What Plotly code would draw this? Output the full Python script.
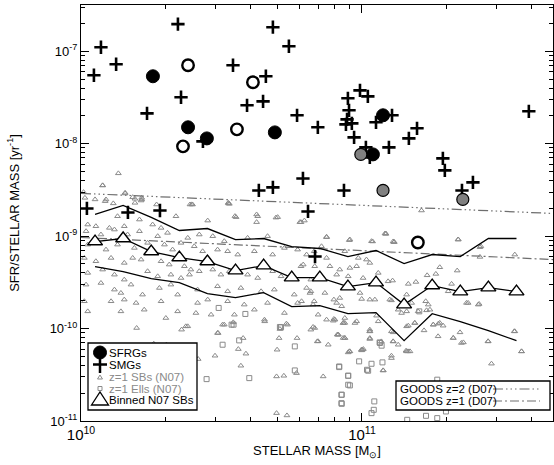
import plotly.graph_objects as go
import numpy as np

# ---------------- data (log10 stellar mass [Msun], log10 sSFR [yr^-1]) ----------------
smg_logm = [10.046, 10.071, 10.125, 10.345, 10.235, 10.356, 10.541, 10.434, 10.591, 10.648,
            10.658, 10.683, 10.633, 10.683, 10.021, 10.167, 10.281, 10.740, 10.769, 10.843,
            10.790, 10.808, 10.936, 10.950, 10.993, 11.021, 10.954, 10.947, 10.943, 10.964,
            10.972, 11.050, 11.107, 11.014, 11.028, 11.096, 11.167, 11.196, 11.288, 11.295,
            11.356, 11.395, 11.594, 10.833]
smg_logs = [-7.260, -6.957, -7.141, -6.707, -7.672, -7.498, -7.152, -7.975, -7.585, -7.542,
            -7.271, -6.740, -8.506, -8.473, -8.701, -8.744, -8.723, -6.946, -7.693, -7.823,
            -8.376, -8.733, -8.506, -7.509, -7.423, -7.488, -7.639, -7.737, -7.791, -7.780,
            -7.932, -7.769, -7.693, -8.040, -8.148, -8.040, -7.943, -7.834, -8.159, -8.289,
            -8.506, -8.419, -7.650, -9.221]

sfrg_logm = [10.256, 10.381, 10.448, 10.690, 11.075, 11.039]
sfrg_logs = [-7.271, -7.823, -7.943, -7.878, -7.693, -8.116]

sfrg_open_logm = [10.381, 10.363, 10.555, 10.612, 11.199]
sfrg_open_logs = [-7.152, -8.029, -7.845, -7.336, -9.069]

sfrg_gray_logm = [10.996, 11.075, 11.359]
sfrg_gray_logs = [-8.116, -8.506, -8.603]

bin_logm = [10.05, 10.15, 10.25, 10.35, 10.45, 10.55, 10.65, 10.75,
            10.85, 10.95, 11.05, 11.15, 11.25, 11.35, 11.45, 11.55]
bin_mid_logs = [-9.059, -9.026, -9.167, -9.232, -9.275, -9.373, -9.319, -9.449,
                -9.449, -9.546, -9.503, -9.741, -9.535, -9.600, -9.557, -9.600]
bin_up_logs = [-8.766, -8.668, -8.798, -8.939, -8.918, -9.037, -9.026, -9.113,
               -9.134, -9.221, -9.156, -9.297, -9.199, -9.221, -9.026, -9.026]
bin_lo_logs = [-9.329, -9.384, -9.459, -9.503, -9.622, -9.665, -9.611, -9.763,
               -9.752, -9.839, -9.828, -10.131, -9.839, -9.925, -10.023, -10.131]

goods_logm = [10.0, 11.68]
goods_z2_logs = [-8.538, -8.755]
goods_z1_logs = [-9.015, -9.254]

sb_points = [
    (10.089, -8.604), (10.184, -8.579), (10.214, -8.615), (10.397, -8.658), (10.528, -8.651),
    (10.130, -8.785), (10.208, -8.821), (10.338, -8.785), (10.451, -8.832), (10.552, -8.795),
    (10.629, -8.785), (10.700, -8.795), (10.795, -8.832), (10.024, -8.875), (10.053, -8.893),
    (10.101, -8.911), (10.154, -8.893), (10.255, -8.875), (10.285, -8.911),
    (10.018, -8.947), (10.071, -8.983), (10.119, -8.929), (10.166, -8.983), (10.208, -8.947),
    (10.273, -9.001), (10.308, -8.965), (10.380, -9.019), (10.421, -8.983), (10.469, -9.001),
    (10.510, -9.055), (10.593, -9.019), (10.664, -9.001), (10.724, -9.128), (10.771, -9.146),
    (10.830, -9.164), (10.024, -9.092), (10.089, -9.146), (10.130, -9.092), (10.190, -9.128),
    (10.237, -9.073), (10.297, -9.092), (10.326, -9.146), (10.356, -9.073), (10.403, -9.110),
    (10.433, -9.164), (10.486, -9.146), (10.522, -9.164), (10.558, -9.200), (10.617, -9.164),
    (10.682, -9.200),
    (10.012, -9.236), (10.053, -9.272), (10.107, -9.236), (10.154, -9.290), (10.184, -9.236),
    (10.214, -9.254), (10.285, -9.272), (10.314, -9.308), (10.368, -9.326), (10.391, -9.362),
    (10.421, -9.380), (10.469, -9.362), (10.498, -9.417), (10.528, -9.380), (10.593, -9.417),
    (10.629, -9.453), (10.682, -9.380), (10.712, -9.435), (10.783, -9.326), (10.818, -9.471),
    (10.024, -9.398), (10.077, -9.362), (10.119, -9.417), (10.154, -9.471), (10.237, -9.380),
    (10.273, -9.435), (10.320, -9.417), (10.356, -9.453), (10.386, -9.417),
    (10.018, -9.525), (10.071, -9.507), (10.119, -9.579), (10.142, -9.615), (10.178, -9.525),
    (10.219, -9.633), (10.279, -9.561), (10.320, -9.525), (10.344, -9.633), (10.415, -9.579),
    (10.486, -9.543), (10.522, -9.597), (10.569, -9.561), (10.641, -9.597), (10.688, -9.579),
    (10.759, -9.633), (10.818, -9.597), (10.012, -9.705), (10.107, -9.705), (10.154, -9.687),
    (10.196, -9.723), (10.285, -9.705), (10.415, -9.723), (10.451, -9.687), (10.522, -9.705),
    (10.581, -9.741), (10.664, -9.723), (10.771, -9.723), (10.830, -9.705),
    (10.024, -9.814), (10.142, -9.814), (10.225, -9.796), (10.344, -9.814), (10.409, -9.832),
    (10.463, -9.850), (10.546, -9.850), (10.617, -9.796), (10.653, -9.904), (10.724, -9.832),
    (10.302, -9.886), (10.380, -9.976), (10.510, -9.958), (10.735, -9.958), (10.486, -10.048),
    (10.818, -10.012),
    (11.212, -8.723), (10.874, -9.012), (10.957, -9.037), (11.034, -9.055), (11.085, -8.976),
    (11.115, -9.063), (11.342, -9.037), (11.420, -9.120), (11.544, -9.200), (10.856, -9.110),
    (10.874, -9.236), (10.939, -9.164), (10.987, -9.236), (11.016, -9.254), (11.028, -9.290),
    (10.803, -9.200), (10.791, -9.308), (10.832, -9.326), (10.886, -9.326), (10.921, -9.362),
    (10.957, -9.344), (10.981, -9.326), (10.910, -9.417), (10.951, -9.435), (11.004, -9.453),
    (11.058, -9.398), (11.093, -9.489), (11.109, -9.481), (11.165, -9.517), (11.192, -9.496),
    (11.232, -9.424), (11.263, -9.409), (11.277, -9.337), (11.339, -9.373), (11.319, -9.517),
    (11.307, -9.597), (11.378, -9.723), (11.417, -9.734), (10.803, -9.561), (10.815, -9.615),
    (10.868, -9.615), (10.921, -9.669), (10.993, -9.615), (11.028, -9.687), (11.099, -9.687),
    (11.129, -9.796), (11.159, -9.814), (11.227, -9.705), (11.242, -9.796), (10.785, -9.705),
    (10.826, -9.741), (10.844, -9.850), (10.874, -9.904), (10.904, -9.904), (10.939, -9.939),
    (10.981, -9.922), (10.832, -9.994), (10.915, -10.066), (11.028, -10.012), (11.058, -9.922),
    (11.105, -10.030), (11.159, -9.976), (11.188, -9.939), (11.254, -9.958), (11.277, -9.939),
    (11.271, -10.084), (11.325, -10.102), (11.354, -10.156), (11.449, -10.138), (11.542, -10.030),
    (11.568, -10.247), (10.844, -10.138), (10.933, -10.102), (10.957, -10.247), (10.998, -10.229),
    (11.159, -10.247), (10.880, -10.175),
    (10.198, -9.994), (10.373, -9.976), (10.358, -10.012), (10.488, -10.048), (10.504, -9.958),
    (10.542, -9.933), (10.577, -10.103), (10.259, -10.164), (10.304, -10.175), (10.290, -10.265),
    (10.417, -10.330), (10.477, -10.294), (10.560, -10.222), (10.587, -10.272), (10.569, -10.402),
    (10.654, -9.922), (10.705, -10.103), (10.769, -10.103), (10.708, -10.005), (10.731, -9.947),
    (10.826, -9.983), (10.841, -10.139), (10.912, -10.066), (10.939, -10.103),
    (10.898, -9.915), (10.934, -9.940), (10.975, -9.940), (10.698, -10.229), (10.696, -10.518),
    (10.722, -10.511), (10.767, -10.482), (10.862, -10.518), (10.951, -10.258), (11.002, -10.229),
    (11.028, -10.103), (11.028, -10.030), (11.069, -10.139), (11.075, -10.453), (11.105, -10.294),
    (11.111, -10.139), (11.164, -10.247), (10.696, -10.915), (10.733, -10.940),
    (10.900, -9.897), (10.939, -9.886), (10.933, -9.940), (10.916, -10.066), (10.939, -10.102),
    (11.028, -10.030), (11.028, -10.113), (11.111, -10.041), (11.165, -9.969), (11.188, -9.940),
    (11.221, -10.020), (11.254, -9.958), (11.272, -9.947), (11.289, -9.969), (11.349, -10.041),
    (11.325, -10.102), (11.361, -10.150), (11.449, -10.139), (11.544, -10.030), (11.568, -10.247),
    (11.461, -10.380), (10.955, -10.247), (10.999, -10.236), (11.005, -10.222), (11.105, -10.319),
    (11.076, -10.453), (11.111, -10.139), (11.157, -10.240), (11.171, -10.247), (11.129, -10.175),
    (11.159, -9.633), (11.177, -9.723), (11.236, -9.741), (11.230, -9.803), (11.372, -9.723),
    (11.414, -9.741), (10.910, -9.723), (10.928, -9.759), (11.052, -9.861), (11.105, -9.695),
    (11.141, -9.832), (11.200, -9.814), (10.900, -9.687), (10.999, -9.680), (11.046, -9.687),
    (10.077, -8.452), (10.157, -8.539), (10.216, -8.586), (10.014, -8.586), (10.086, -8.622),
    (10.192, -8.640), (10.269, -8.658), (10.388, -8.658), (10.524, -8.640),
    (10.133, -8.321), (10.077, -8.451), (10.157, -8.531), (10.192, -8.596), (10.216, -8.603),
    (10.009, -8.524), (10.050, -8.603), (10.115, -8.646), (10.394, -8.657), (10.525, -8.646),
    (10.548, -8.784), (10.625, -8.766), (10.625, -8.849), (10.779, -8.849), (10.874, -9.008),
    (10.955, -9.044), (11.038, -9.058), (11.082, -8.972), (11.111, -9.058),
    (10.694, -8.800), (10.783, -8.850), (11.085, -8.972), (11.114, -9.066), (11.343, -9.037),
    (11.423, -9.109), (11.420, -9.225),
]

ell_points = [
    (10.490, -9.777), (10.585, -9.842), (10.543, -9.958), (10.712, -9.987),
    (11.204, -9.814), (11.064, -10.156), (11.070, -10.185),
    (10.536, -9.958), (10.708, -9.983), (10.563, -10.128), (10.504, -10.175), (10.761, -10.193),
    (10.447, -10.547), (10.599, -10.536), (10.761, -10.453), (10.919, -10.410), (10.951, -10.511),
    (10.951, -10.608), (10.927, -10.716), (10.927, -10.807), (10.990, -10.355), (11.018, -10.446),
    (11.034, -10.381), (11.073, -10.366), (11.042, -10.879), (11.063, -10.150),
    (11.022, -10.456), (10.919, -10.417), (10.951, -10.510), (10.957, -10.615), (10.928, -10.716),
    (10.928, -10.814), (11.044, -10.788), (11.034, -10.915), (11.149, -10.752), (11.206, -10.698),
    (11.268, -10.553), (11.299, -10.897), (11.228, -10.944), (11.268, -10.969), (11.396, -10.850),
    (11.414, -10.626), (11.161, -10.987),
]

# ---------------- helpers ----------------
def p10(a):
    return [10.0 ** v for v in a]

sb_m = p10([p[0] for p in sb_points])
sb_s = p10([p[1] for p in sb_points])
el_m = p10([p[0] for p in ell_points])
el_s = p10([p[1] for p in ell_points])

GRAY = "#8a8a8a"
FONT = "Liberation Sans, Arial, sans-serif"

fig = go.Figure()

fig.add_trace(go.Scatter(x=sb_m, y=sb_s, mode="markers", name="z=1 SBs (N07)",
                         marker=dict(symbol="triangle-up-open", size=5, color=GRAY,
                                     line=dict(width=1, color=GRAY))))
fig.add_trace(go.Scatter(x=el_m, y=el_s, mode="markers", name="z=1 Ells (N07)",
                         marker=dict(symbol="square-open", size=5, color=GRAY,
                                     line=dict(width=1, color=GRAY))))

fig.add_trace(go.Scatter(x=p10(goods_logm), y=p10(goods_z2_logs), mode="lines",
                         name="GOODS z=2 (D07)",
                         line=dict(color="#6e6e6e", width=1.2,
                                   dash="10px,3px,1.5px,3px,1.5px,3px,1.5px,3px")))
fig.add_trace(go.Scatter(x=p10(goods_logm), y=p10(goods_z1_logs), mode="lines",
                         name="GOODS z=1 (D07)",
                         line=dict(color="#6e6e6e", width=1.2, dash="9px,3px,2px,3px")))

fig.add_trace(go.Scatter(x=p10(bin_logm), y=p10(bin_up_logs), mode="lines",
                         line=dict(color="black", width=1.3), showlegend=False))
fig.add_trace(go.Scatter(x=p10(bin_logm), y=p10(bin_lo_logs), mode="lines",
                         line=dict(color="black", width=1.3), showlegend=False))
fig.add_trace(go.Scatter(x=p10(bin_logm), y=p10(bin_mid_logs), mode="lines+markers",
                         name="Binned N07 SBs",
                         line=dict(color="black", width=1.3),
                         marker=dict(symbol="triangle-up", size=13, color="white",
                                     line=dict(width=1.4, color="black"))))

fig.add_trace(go.Scatter(x=p10(smg_logm), y=p10(smg_logs), mode="markers", name="SMGs",
                         marker=dict(symbol="cross-thin", size=9.5, color="black",
                                     line=dict(width=2.6, color="black"))))
fig.add_trace(go.Scatter(x=p10(sfrg_logm), y=p10(sfrg_logs), mode="markers", name="SFRGs",
                         marker=dict(symbol="circle", size=13, color="black",
                                     line=dict(width=1, color="black"))))
fig.add_trace(go.Scatter(x=p10(sfrg_open_logm), y=p10(sfrg_open_logs), mode="markers",
                         showlegend=False,
                         marker=dict(symbol="circle-open", size=11.5, color="black",
                                     line=dict(width=2.4, color="black"))))
fig.add_trace(go.Scatter(x=p10(sfrg_gray_logm), y=p10(sfrg_gray_logs), mode="markers",
                         showlegend=False,
                         marker=dict(symbol="circle", size=12, color="#808080",
                                     line=dict(width=1.2, color="black"))))

# ---------------- axes ----------------
x_minor = [k * 1e10 for k in range(2, 10)] + [k * 1e11 for k in range(2, 5)]
y_minor = []
for d in range(-11, -6):
    for k in range(2, 10):
        v = k * 10.0 ** d
        if v <= 10 ** -6.5:
            y_minor.append(v)

axis_common = dict(showline=True, linecolor="black", linewidth=1.3, mirror="ticks",
                   ticks="inside", ticklen=8, tickwidth=1, tickcolor="black",
                   showgrid=False, zeroline=False, automargin=False)

fig.update_xaxes(type="log", range=[10, 11.68],
                 tickvals=[1e10, 1e11], ticktext=["10<sup>10</sup>", "10<sup>11</sup>"],
                 tickfont=dict(size=15, family=FONT, color="black"),
                 minor=dict(tickvals=x_minor, ticklen=4, ticks="inside", tickcolor="black",
                            showgrid=False),
                 title=dict(text="STELLAR MASS [M<sub>⊙</sub>]",
                            font=dict(size=13, family=FONT, color="black"), standoff=0),
                 **axis_common)
fig.update_yaxes(type="log", range=[-11, -6.5],
                 tickvals=[1e-11, 1e-10, 1e-9, 1e-8, 1e-7],
                 ticktext=["10<sup>-11</sup>", "10<sup>-10</sup>", "10<sup>-9</sup>",
                           "10<sup>-8</sup>", "10<sup>-7</sup>"],
                 tickfont=dict(size=13, family=FONT, color="black"),
                 minor=dict(tickvals=y_minor, ticklen=4, ticks="inside", tickcolor="black",
                            showgrid=False),
                 title=dict(text="SFR/STELLAR MASS [yr<sup>-1</sup>]",
                            font=dict(size=13, family=FONT, color="black"), standoff=27),
                 **axis_common)

# ---------------- legends (box, symbols as shapes, texts as annotations) ----------------
def px(xp):
    return (xp - 81) / 472.0

def py(yp):
    return (421 - yp) / 416.0

def poly(pts):
    return "M " + " L ".join(f"{px(a):.5f},{py(b):.5f}" for a, b in pts) + " Z"

shapes = [
    dict(type="rect", xref="paper", yref="paper", x0=px(88), x1=px(197), y0=py(410), y1=py(343),
         line=dict(color="black", width=1.3), fillcolor="white", layer="above"),
    dict(type="rect", xref="paper", yref="paper", x0=px(396), x1=px(550), y0=py(410), y1=py(381),
         line=dict(color="black", width=1.3), fillcolor="white", layer="above"),
    dict(type="line", xref="paper", yref="paper", x0=px(493), x1=px(540), y0=py(389), y1=py(389),
         line=dict(color="#6e6e6e", width=1.2, dash="10px,3px,1.5px,3px,1.5px,3px,1.5px,3px"),
         layer="above"),
    dict(type="line", xref="paper", yref="paper", x0=px(493), x1=px(540), y0=py(401), y1=py(401),
         line=dict(color="#6e6e6e", width=1.2, dash="9px,3px,2px,3px"), layer="above"),
    # SFRGs symbol
    dict(type="circle", xref="paper", yref="paper", x0=px(93.5), x1=px(106.5),
         y0=py(359), y1=py(346), fillcolor="black", line=dict(color="black", width=1),
         layer="above"),
    # SMGs symbol
    dict(type="line", xref="paper", yref="paper", x0=px(93), x1=px(107), y0=py(364.5),
         y1=py(364.5), line=dict(color="black", width=2.5), layer="above"),
    dict(type="line", xref="paper", yref="paper", x0=px(100), x1=px(100), y0=py(357),
         y1=py(373), line=dict(color="black", width=2.5), layer="above"),
    # z=1 SBs symbol
    dict(type="path", xref="paper", yref="paper",
         path=poly([(97.5, 379), (102.5, 379), (100, 375)]),
         line=dict(color=GRAY, width=1), layer="above"),
    # z=1 Ells symbol
    dict(type="rect", xref="paper", yref="paper", x0=px(98), x1=px(102), y0=py(390.5),
         y1=py(386.5), line=dict(color=GRAY, width=1), layer="above"),
    # Binned symbol
    dict(type="path", xref="paper", yref="paper",
         path=poly([(91.5, 405), (108.5, 405), (100, 392)]),
         fillcolor="white", line=dict(color="black", width=1.3), layer="above"),
]

ann = []
rows = [(353, "SFRGs", "black"), (365, "SMGs", "black"), (377, "z=1 SBs (N07)", GRAY),
        (388.5, "z=1 Ells (N07)", GRAY), (400, "Binned N07 SBs", "black")]
for yp, txt, col in rows:
    ann.append(dict(xref="paper", yref="paper", x=px(108), y=py(yp), text=txt, showarrow=False,
                    xanchor="left", yanchor="middle", borderpad=0,
                    font=dict(size=11.5, family=FONT, color=col)))
for yp, txt in [(389, "GOODS z=2 (D07)"), (401, "GOODS z=1 (D07)")]:
    ann.append(dict(xref="paper", yref="paper", x=px(399), y=py(yp), text=txt, showarrow=False,
                    xanchor="left", yanchor="middle", borderpad=0,
                    font=dict(size=11.5, family=FONT, color="black")))

fig.update_layout(width=554, height=465, margin=dict(l=81, r=1, t=5, b=44),
                  plot_bgcolor="white", paper_bgcolor="white", showlegend=False,
                  shapes=shapes, annotations=ann, font=dict(family=FONT, color="black"))

fig.write_html("out.html", config={"displayModeBar": False},
               post_script="document.body.style.margin='0px';document.body.style.overflow='hidden';")
